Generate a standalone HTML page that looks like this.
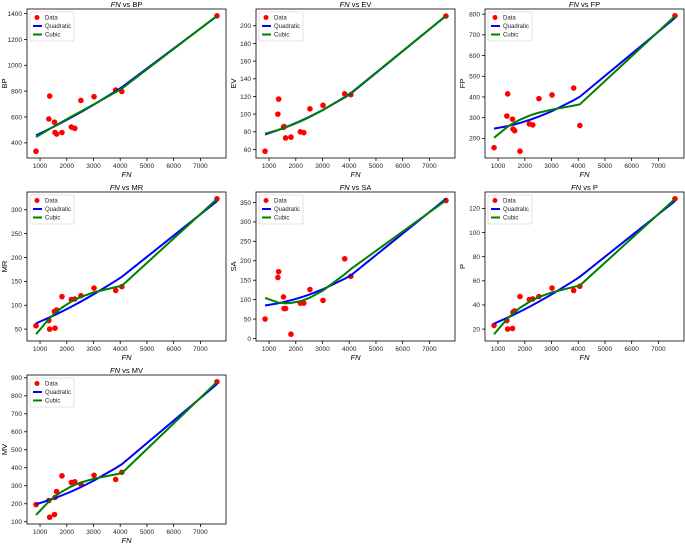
<!DOCTYPE html>
<html><head><meta charset="utf-8"><style>
html,body{margin:0;padding:0;background:#fff;}
svg{display:block;font-family:"Liberation Sans","DejaVu Sans",sans-serif;}
</style></head><body>
<svg id="fig" width="685" height="544" viewBox="0 0 685 544" xmlns="http://www.w3.org/2000/svg"></svg>
<script>
const fnValues = [850,1330,1360,1540,1560,1620,1820,2170,2300,2530,3020,3830,4060,7620];
const bpValues = [335,585,762,560,480,468,480,522,512,728,757,808,797,1383];
const evValues = [58,100,117,85,86,73,74,80,79,106,110,123,122,211];
const fpValues = [155,308,415,293,245,237,138,270,265,392,410,443,262,792];
const mrValues = [57,68,50,87,52,90,118,112,113,120,136,131,139,323];
const saValues = [50,157,172,107,77,77,11,91,91,126,98,205,160,355];
const pValues = [23,27,20,20.5,34,35,47,44.5,45,47,54,52,55.5,128];
const mvValues = [195,218,125,140,235,268,355,318,322,308,358,335,375,878];
const panelNames = ["BP","EV","FP","MR","SA","P","MV"];
const xTicks = [1000,2000,3000,4000,5000,6000,7000];
const yTickSets = [[400,600,800,1000,1200,1400],[60,80,100,120,140,160,180,200],[200,300,400,500,600,700,800],[50,100,150,200,250,300],[0,50,100,150,200,250,300,350],[20,40,60,80,100,120],[100,200,300,400,500,600,700,800,900]];
const seriesList = [bpValues,evValues,fpValues,mrValues,saValues,pValues,mvValues];

const NS="http://www.w3.org/2000/svg";
const svg=document.getElementById('fig');
function mk(tag,attrs,parent){const e=document.createElementNS(NS,tag);for(const k in attrs)e.setAttribute(k,attrs[k]);(parent||svg).appendChild(e);return e;}

function polyfit(xs,ys,deg){
  const m=xs.reduce((a,b)=>a+b,0)/xs.length, s=1000;
  const n=deg+1, A=[];for(let i=0;i<n;i++){A.push(new Array(n+1).fill(0));}
  xs.forEach((x,k)=>{const t=(x-m)/s;const p=[];for(let i=0;i<n;i++)p.push(Math.pow(t,i));
    for(let i=0;i<n;i++){for(let j=0;j<n;j++)A[i][j]+=p[i]*p[j];A[i][n]+=p[i]*ys[k];}});
  for(let i=0;i<n;i++){let piv=i;for(let r=i+1;r<n;r++)if(Math.abs(A[r][i])>Math.abs(A[piv][i]))piv=r;
    [A[i],A[piv]]=[A[piv],A[i]];for(let r=0;r<n;r++){if(r===i)continue;const f=A[r][i]/A[i][i];for(let c=i;c<=n;c++)A[r][c]-=f*A[i][c];}}
  const c=A.map((row,i)=>row[n]/row[i]);
  return x=>{const t=(x-m)/s;let v=0;for(let i=0;i<n;i++)v+=c[i]*Math.pow(t,i);return v;};
}

const cols=[27,256,485], tops=[9,192,375], W=199, H=149;
seriesList.forEach((ys,idx)=>{
  const name=panelNames[idx].toLowerCase();
  const L=cols[idx%3], T=tops[Math.floor(idx/3)];
  const g=mk('g',{});
  
  
  const order=fnValues.map((x,i)=>i).sort((a,b)=>fnValues[a]-fnValues[b]);
  const q=polyfit(fnValues,ys,2), cu=polyfit(fnValues,ys,3);
  const qv=order.map(i=>q(fnValues[i])), cv=order.map(i=>cu(fnValues[i]));
  const all=ys.concat(qv,cv);
  let ymin=Math.min(...all), ymax=Math.max(...all), yr=ymax-ymin; ymin-=yr*0.05; ymax+=yr*0.05;
  const xmin0=Math.min(...fnValues), xmax0=Math.max(...fnValues), xr=xmax0-xmin0;
  const xmin=xmin0-xr*0.05, xmax=xmax0+xr*0.05;
  const sx=x=>L+(x-xmin)/(xmax-xmin)*W, sy=y=>T+H-(y-ymin)/(ymax-ymin)*H;
  // ticks
  xTicks.forEach(t=>{const X=sx(t);
    mk('line',{x1:X,x2:X,y1:T+H,y2:T+H+3,stroke:'#000','stroke-width':0.8},g);
    const tx=mk('text',{x:X,y:T+H+10,'font-size':6.5,'text-anchor':'middle',fill:'#222'},g);tx.textContent=t;
    });
  yTickSets[idx].forEach(t=>{const Y=sy(t);
    mk('line',{x1:L-3,x2:L,y1:Y,y2:Y,stroke:'#000','stroke-width':0.8},g);
    const tx=mk('text',{x:L-5,y:Y+2.3,'font-size':6.5,'text-anchor':'end',fill:'#222'},g);tx.textContent=t;
    });
  // series
  order.forEach(i=>{const c=mk('circle',{cx:sx(fnValues[i]),cy:sy(ys[i]),r:2.8,fill:'#ff0000'},g);
    });
  const ql=mk('polyline',{points:order.map((i,k)=>sx(fnValues[i])+','+sy(qv[k])).join(' '),fill:'none',stroke:'#0000ff','stroke-width':2},g);
  
  const cl=mk('polyline',{points:order.map((i,k)=>sx(fnValues[i])+','+sy(cv[k])).join(' '),fill:'none',stroke:'#008000','stroke-width':2},g);
  
  const fr=mk('rect',{x:L,y:T,width:W,height:H,fill:'none',stroke:'#000','stroke-width':0.8},g);
  
  // title & labels
  const ti=mk('text',{x:L+W/2,y:T-2,'font-size':7.5,'text-anchor':'middle',fill:'#000'},g);
  ti.innerHTML='<tspan font-style="italic">FN</tspan> vs '+panelNames[idx];
  
  const xl=mk('text',{x:L+W/2,y:T+H+19,'font-size':7.5,'text-anchor':'middle','font-style':'italic',fill:'#000'},g);xl.textContent='FN';
  
  const yl=mk('text',{x:0,y:0,'font-size':7.5,'text-anchor':'middle',fill:'#000',transform:'translate('+(L-20)+','+(T+H/2)+') rotate(-90)'},g);yl.textContent=panelNames[idx];
  
  // legend
  const lg=mk('g',{},g);
  
  mk('rect',{x:L+3,y:T+3,width:44,height:29,fill:'#fff',stroke:'#ccc','stroke-width':0.6,rx:1.5},lg);
  mk('circle',{cx:L+10,cy:T+8.5,r:2.5,fill:'#ff0000'},lg);
  mk('line',{x1:L+6,x2:L+15,y1:T+17,y2:T+17,stroke:'#0000ff','stroke-width':2},lg);
  mk('line',{x1:L+6,x2:L+15,y1:T+25.5,y2:T+25.5,stroke:'#008000','stroke-width':2},lg);
  [['Data',T+10.5],['Quadratic',T+19],['Cubic',T+27.5]].forEach(([s,y])=>{const t=mk('text',{x:L+18,y:y,'font-size':6,fill:'#222'},lg);t.textContent=s;
    });
});
</script>
</body></html>
